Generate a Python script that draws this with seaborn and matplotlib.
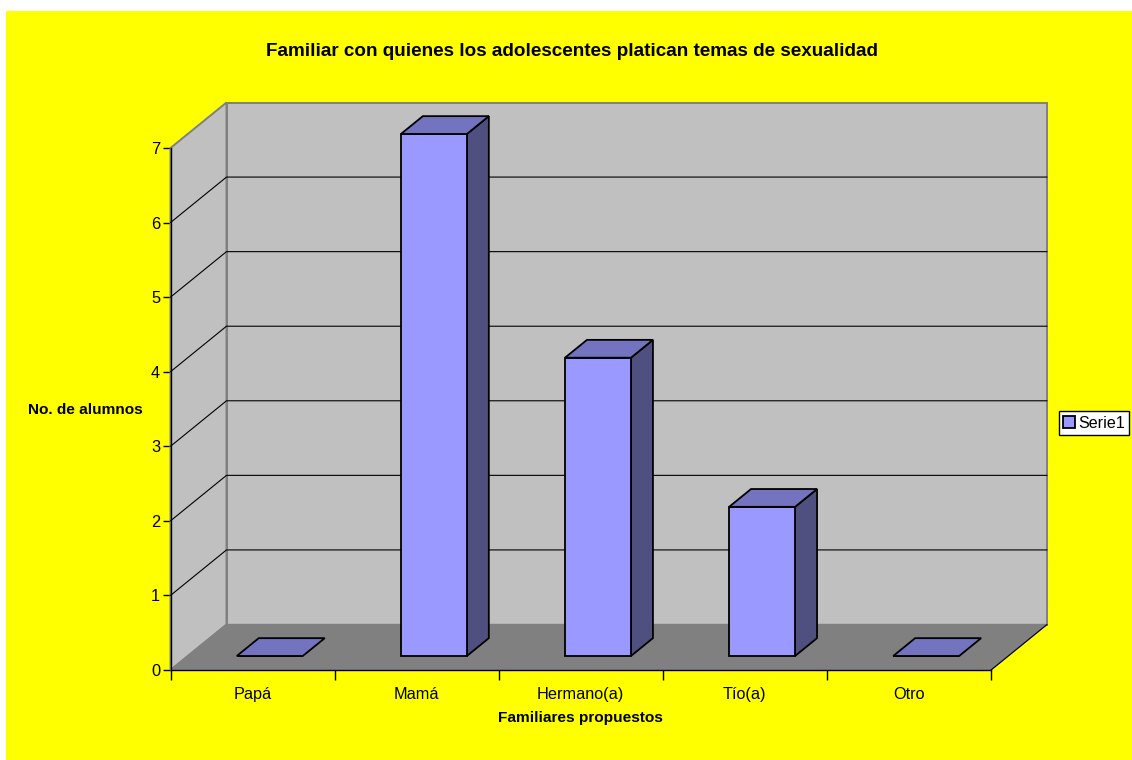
import matplotlib
matplotlib.use("Agg")
import matplotlib.pyplot as plt
from matplotlib.patches import Polygon, Rectangle
import pandas as pd
import seaborn as sns

# Survey counts
familiares = ["Papá", "Mamá", "Hermano(a)", "Tío(a)", "Otro"]
alumnos = [0, 7, 4, 2, 0]
serie = "Serie1"
y_ticks = [0, 1, 2, 3, 4, 5, 6, 7]

FACE = "#9999FF"
TOP = "#7373BF"
SIDE = "#4F4F80"
WALL = "#C0C0C0"
FLOOR = "#808080"
BACKDROP = "#FFFF00"

W, H = 1132, 760
AX_L, AX_R, AX_B, AX_T = 170.5, 991.0, 670.0, 148.0  # front plane, pixels from top-left

sns.set_style("white")
plt.rcParams["font.family"] = ["Liberation Sans", "DejaVu Sans"]
plt.rcParams["font.size"] = 10

fig = plt.figure(figsize=(W / 100, H / 100), dpi=100, facecolor="white")
fig.patches.append(Rectangle((6 / W, 0), (W - 6) / W, (H - 11) / H,
                             transform=fig.transFigure, facecolor=BACKDROP,
                             edgecolor="none", zorder=-10))
ax = fig.add_axes([AX_L / W, 1 - AX_B / H, (AX_R - AX_L) / W, (AX_B - AX_T) / H])
ax.set_facecolor("none")

df = pd.DataFrame({"familiar": familiares, "alumnos": alumnos})
sns.barplot(data=df, x="familiar", y="alumnos", color=FACE, saturation=1,
            width=0.402, edgecolor="black", linewidth=1.3, label=serie,
            ax=ax, zorder=5, clip_on=False)

ax.set_xlim(-0.5, 4.5)
ax.set_ylim(0, 7)

# Oblique projection: full depth of the chart box, in data units
DEPTH_X = 56.0 / ((AX_R - AX_L) / 5)
DEPTH_Y = 45.5 / ((AX_B - AX_T) / 7)


def oblique(x, y, d):
    """Map a point of the front plane to depth d (0 front, 1 back wall)."""
    return (x + d * DEPTH_X, y + d * DEPTH_Y)


def face(points, **kw):
    kw.setdefault("clip_on", False)
    ax.add_patch(Polygon(points, closed=True, **kw))


x0, x1 = -0.5, 4.5
y0, y1 = 0, 7

# Walls and floor
face([oblique(x0, y0, 1), oblique(x1, y0, 1), oblique(x1, y1, 1), oblique(x0, y1, 1)],
     facecolor=WALL, edgecolor=FLOOR, linewidth=1.4, zorder=1)
face([oblique(x0, y0, 0), oblique(x0, y0, 1), oblique(x0, y1, 1), oblique(x0, y1, 0)],
     facecolor=WALL, edgecolor=FLOOR, linewidth=1.4, zorder=1)
face([oblique(x0, y0, 0), oblique(x1, y0, 0), oblique(x1, y0, 1), oblique(x0, y0, 1)],
     facecolor=FLOOR, edgecolor=FLOOR, linewidth=1.0, zorder=1.5)

# Gridlines run along the left wall and across the back wall
for v in y_ticks[1:-1]:
    a, b, c = oblique(x0, v, 0), oblique(x0, v, 1), oblique(x1, v, 1)
    ax.plot([a[0], b[0], c[0]], [a[1], b[1], c[1]], color="black", linewidth=0.8,
            zorder=2, clip_on=False)

# Front edge of the floor's right side
a, b = oblique(x1, y0, 0), oblique(x1, y0, 1)
ax.plot([a[0], b[0]], [a[1], b[1]], color="black", linewidth=0.8, zorder=2, clip_on=False)

# Slide each bar to its depth and add the top and side faces
D_FRONT, D_BACK = 0.308, 0.70
for bar, value in zip(ax.patches, alumnos):
    left, _ = oblique(bar.get_x(), 0, D_FRONT)
    _, base = oblique(0, 0, D_FRONT)
    bar.set_x(left)
    bar.set_y(base)
    bar.set_height(value)
    right = left + bar.get_width()
    top = base + value
    shift = D_BACK - D_FRONT
    lift_x, lift_y = shift * DEPTH_X, shift * DEPTH_Y
    face([(left, top), (right, top), (right + lift_x, top + lift_y), (left + lift_x, top + lift_y)],
         facecolor=TOP, edgecolor="black", linewidth=1.3, zorder=5)
    if value > 0:
        face([(right, base), (right + lift_x, base + lift_y), (right + lift_x, top + lift_y), (right, top)],
             facecolor=SIDE, edgecolor="black", linewidth=1.3, zorder=4.5)

# Axes furniture
for name in ("top", "right"):
    ax.spines[name].set_visible(False)
for name in ("left", "bottom"):
    ax.spines[name].set_visible(True)
    ax.spines[name].set_color("black")
    ax.spines[name].set_linewidth(1.0)
    ax.spines[name].set_zorder(6)

ax.set_yticks(y_ticks)
ax.set_xticks(range(len(familiares)))
ax.set_xticklabels(familiares)
ax.set_xticks([i - 0.5 for i in range(len(familiares) + 1)], minor=True)
ax.tick_params(axis="x", which="major", length=0, pad=11.9, labelsize=11.7, colors="black")
ax.tick_params(axis="x", which="minor", length=7, width=1.0, color="black", bottom=True)
ax.tick_params(axis="y", which="major", length=6, width=1.0, color="black", left=True,
               pad=1.5, labelsize=11.8, labelcolor="black")

ax.set_xlabel("Familiares propuestos", fontweight="bold", fontsize=11.1, color="black", va="center")
ax.set_ylabel("No. de alumnos", fontweight="bold", fontsize=11.1, color="black",
              rotation=0, ha="center", va="center")
ax.xaxis.set_label_coords((580 - AX_L) / (AX_R - AX_L), (AX_B - 718) / (AX_B - AX_T))
ax.yaxis.set_label_coords((85 - AX_L) / (AX_R - AX_L), (AX_B - 410) / (AX_B - AX_T))

fig.text(572.5 / W, 1 - 51.5 / H, "Familiar con quienes los adolescentes platican temas de sexualidad",
         ha="center", va="center", fontweight="bold", fontsize=13.55, color="black")

handles, labels = ax.get_legend_handles_labels()
leg = ax.legend(handles, labels, loc="center", bbox_to_anchor=(1094 / W, 1 - 423 / H),
                bbox_transform=fig.transFigure, frameon=True, fancybox=False, framealpha=1,
                facecolor="white", edgecolor="black", fontsize=11.6,
                handlelength=0.7, handleheight=0.7, handletextpad=0.2,
                borderpad=0.28, borderaxespad=0)
leg.get_frame().set_linewidth(1.0)
leg.get_texts()[0].set_color("black")

fig.savefig("out.png", dpi=100, facecolor=fig.get_facecolor())
